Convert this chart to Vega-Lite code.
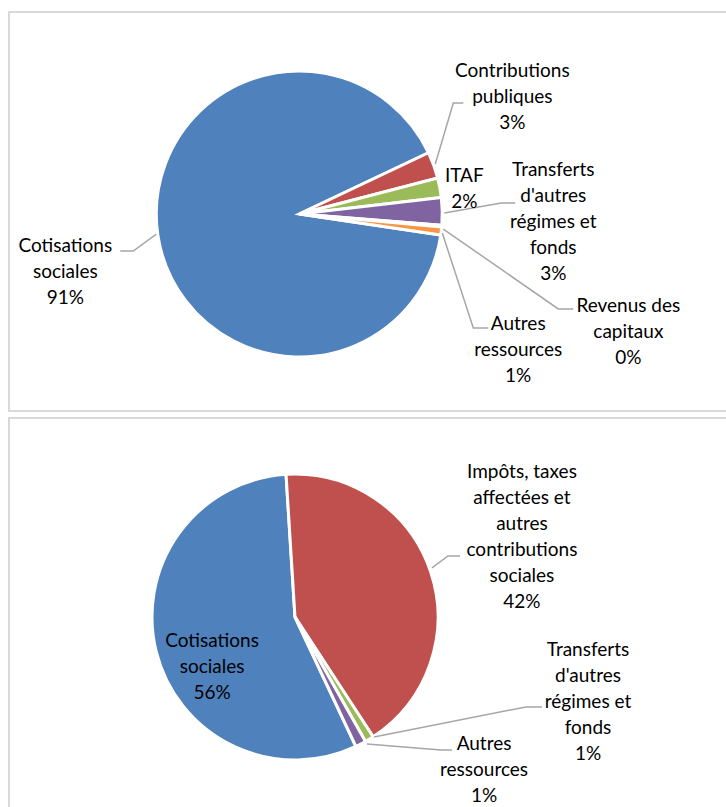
{
  "$schema": "https://vega.github.io/schema/vega-lite/v6.json",
  "padding": {"left": 8, "top": 11, "right": 0, "bottom": 0},
  "spacing": 5,
  "config": {"view": {"stroke": "#d9d9d9", "strokeWidth": 2}},
  "resolve": {"scale": {"color": "independent", "theta": "independent", "x": "independent", "y": "independent"}},
  "vconcat": [
    {
      "width": 719,
      "height": 399,
      "layer": [
        {
          "data": {"values": [
            {"idx": 1, "name": "Cotisations sociales", "value": 90.6},
            {"idx": 2, "name": "Contributions publiques", "value": 3.0},
            {"idx": 3, "name": "ITAF", "value": 2.2},
            {"idx": 4, "name": "Transferts d'autres régimes et fonds", "value": 3.1},
            {"idx": 5, "name": "Revenus des capitaux", "value": 0.2},
            {"idx": 6, "name": "Autres ressources", "value": 0.9}
          ]},
          "mark": {"type": "arc", "outerRadius": 143, "stroke": "#ffffff", "strokeWidth": 3},
          "encoding": {
            "x": {"datum": 0, "type": "quantitative", "scale": {"domain": [-2.03, 2.998], "nice": false, "zero": false}, "axis": null},
            "y": {"datum": 0, "type": "quantitative", "scale": {"domain": [-1.3776, 1.4126], "nice": false, "zero": false}, "axis": null},
            "theta": {"field": "value", "type": "quantitative", "stack": true, "scale": {"range": [1.719, 8.002]}},
            "order": {"field": "idx", "type": "quantitative"},
            "color": {"field": "name", "type": "nominal", "legend": null,
              "scale": {"domain": ["Cotisations sociales", "Contributions publiques", "ITAF", "Transferts d'autres régimes et fonds", "Revenus des capitaux", "Autres ressources"],
                        "range": ["#4f81bd", "#c0504d", "#9bbb59", "#8064a2", "#4bacc6", "#f79646"]}}
          }
        },
        {
          "data": {"values": [
            {"lbl": "Contributions publiques", "k": 1, "u": 0.951, "v": 0.350},
            {"lbl": "Contributions publiques", "k": 2, "u": 1.077, "v": 0.776},
            {"lbl": "Contributions publiques", "k": 3, "u": 1.147, "v": 0.776},
            {"lbl": "Transferts", "k": 1, "u": 1.014, "v": 0.007},
            {"lbl": "Transferts", "k": 2, "u": 1.413, "v": 0.077},
            {"lbl": "Transferts", "k": 3, "u": 1.510, "v": 0.077},
            {"lbl": "Revenus", "k": 1, "u": 1.007, "v": -0.105},
            {"lbl": "Revenus", "k": 2, "u": 1.811, "v": -0.664},
            {"lbl": "Revenus", "k": 3, "u": 1.916, "v": -0.664},
            {"lbl": "Autres", "k": 1, "u": 1.000, "v": -0.133},
            {"lbl": "Autres", "k": 2, "u": 1.217, "v": -0.797},
            {"lbl": "Autres", "k": 3, "u": 1.322, "v": -0.797},
            {"lbl": "Cotisations", "k": 1, "u": -1.000, "v": -0.140},
            {"lbl": "Cotisations", "k": 2, "u": -1.161, "v": -0.259},
            {"lbl": "Cotisations", "k": 3, "u": -1.252, "v": -0.259}
          ]},
          "mark": {"type": "line", "color": "#a6a6a6", "strokeWidth": 1.5},
          "encoding": {
            "x": {"field": "u", "type": "quantitative", "scale": {"domain": [-2.03, 2.998], "nice": false, "zero": false}, "axis": null},
            "y": {"field": "v", "type": "quantitative", "scale": {"domain": [-1.3776, 1.4126], "nice": false, "zero": false}, "axis": null},
            "detail": {"field": "lbl", "type": "nominal"},
            "order": {"field": "k", "type": "quantitative"}
          }
        },
        {
          "data": {"values": [
            {"txt": "Contributions\npubliques\n3%", "u": 1.490, "v": 1.063},
            {"txt": "ITAF\n2%", "u": 1.154, "v": 0.329},
            {"txt": "Transferts\nd'autres\nrégimes et\nfonds\n3%", "u": 1.776, "v": 0.371},
            {"txt": "Revenus des\ncapitaux\n0%", "u": 2.301, "v": -0.580},
            {"txt": "Autres\nressources\n1%", "u": 1.531, "v": -0.706},
            {"txt": "Cotisations\nsociales\n91%", "u": -1.636, "v": -0.161}
          ]},
          "mark": {"type": "text", "align": "center", "baseline": "top", "lineBreak": "\n", "lineHeight": 26, "font": "Lato", "fontSize": 19, "color": "#000000"},
          "encoding": {
            "x": {"field": "u", "type": "quantitative", "scale": {"domain": [-2.03, 2.998], "nice": false, "zero": false}, "axis": null},
            "y": {"field": "v", "type": "quantitative", "scale": {"domain": [-1.3776, 1.4126], "nice": false, "zero": false}, "axis": null},
            "text": {"field": "txt", "type": "nominal"}
          }
        }
      ]
    },
    {
      "width": 719,
      "height": 392,
      "layer": [
        {
          "data": {"values": [
            {"idx": 1, "name": "Cotisations sociales", "value": 56.0},
            {"idx": 2, "name": "Impôts, taxes affectées et autres contributions sociales", "value": 41.8},
            {"idx": 3, "name": "Transferts d'autres régimes et fonds", "value": 1.0},
            {"idx": 4, "name": "Autres ressources", "value": 1.2}
          ]},
          "mark": {"type": "arc", "outerRadius": 143, "stroke": "#ffffff", "strokeWidth": 3},
          "encoding": {
            "x": {"datum": 0, "type": "quantitative", "scale": {"domain": [-2.0, 3.028], "nice": false, "zero": false}, "axis": null},
            "y": {"datum": 0, "type": "quantitative", "scale": {"domain": [-1.350, 1.392], "nice": false, "zero": false}, "axis": null},
            "theta": {"field": "value", "type": "quantitative", "stack": true, "scale": {"range": [2.702, 8.985]}},
            "order": {"field": "idx", "type": "quantitative"},
            "color": {"field": "name", "type": "nominal", "legend": null,
              "scale": {"domain": ["Cotisations sociales", "Impôts, taxes affectées et autres contributions sociales", "Transferts d'autres régimes et fonds", "Autres ressources"],
                        "range": ["#4f81bd", "#c0504d", "#9bbb59", "#8064a2"]}}
          }
        },
        {
          "data": {"values": [
            {"lbl": "Impots", "k": 1, "u": 0.958, "v": 0.343},
            {"lbl": "Impots", "k": 2, "u": 1.070, "v": 0.427},
            {"lbl": "Impots", "k": 3, "u": 1.154, "v": 0.427},
            {"lbl": "Transferts", "k": 1, "u": 0.552, "v": -0.839},
            {"lbl": "Transferts", "k": 2, "u": 1.615, "v": -0.629},
            {"lbl": "Transferts", "k": 3, "u": 1.727, "v": -0.629},
            {"lbl": "Autres", "k": 1, "u": 0.503, "v": -0.888},
            {"lbl": "Autres", "k": 2, "u": 1.021, "v": -0.930},
            {"lbl": "Autres", "k": 3, "u": 1.098, "v": -0.930}
          ]},
          "mark": {"type": "line", "color": "#a6a6a6", "strokeWidth": 1.5},
          "encoding": {
            "x": {"field": "u", "type": "quantitative", "scale": {"domain": [-2.0, 3.028], "nice": false, "zero": false}, "axis": null},
            "y": {"field": "v", "type": "quantitative", "scale": {"domain": [-1.350, 1.392], "nice": false, "zero": false}, "axis": null},
            "detail": {"field": "lbl", "type": "nominal"},
            "order": {"field": "k", "type": "quantitative"}
          }
        },
        {
          "data": {"values": [
            {"txt": "Impôts, taxes\naffectées et\nautres\ncontributions\nsociales\n42%", "u": 1.587, "v": 1.077},
            {"txt": "Transferts\nd'autres\nrégimes et\nfonds\n1%", "u": 2.049, "v": -0.168},
            {"txt": "Autres\nressources\n1%", "u": 1.322, "v": -0.825},
            {"txt": "Cotisations\nsociales\n56%", "u": -0.580, "v": -0.105}
          ]},
          "mark": {"type": "text", "align": "center", "baseline": "top", "lineBreak": "\n", "lineHeight": 26, "font": "Lato", "fontSize": 19, "color": "#000000"},
          "encoding": {
            "x": {"field": "u", "type": "quantitative", "scale": {"domain": [-2.0, 3.028], "nice": false, "zero": false}, "axis": null},
            "y": {"field": "v", "type": "quantitative", "scale": {"domain": [-1.350, 1.392], "nice": false, "zero": false}, "axis": null},
            "text": {"field": "txt", "type": "nominal"}
          }
        }
      ]
    }
  ]
}
